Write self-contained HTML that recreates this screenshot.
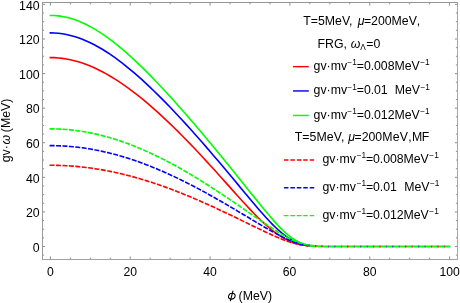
<!DOCTYPE html>
<html><head><meta charset="utf-8"><title>plot</title>
<style>
html,body{margin:0;padding:0;background:#fff;}
svg{display:block;}
.tx{filter:grayscale(1);}
text{font-family:"Liberation Sans",sans-serif;font-size:12.3px;fill:#000;}
.i{font-style:italic;}
.s{font-size:8.3px;}
</style></head><body>
<svg width="460" height="303" viewBox="0 0 460 303">
<rect x="0" y="0" width="460" height="303" fill="#fff"/>
<defs><clipPath id="hc"><rect x="0" y="0" width="308.28" height="303"/></clipPath></defs>
<g clip-path="url(#hc)">
<path d="M50.40 57.59 L54.39 57.68 L58.38 57.94 L62.38 58.37 L66.37 58.98 L70.36 59.75 L74.35 60.69 L78.34 61.80 L82.34 63.06 L86.33 64.49 L90.32 66.07 L94.31 67.81 L98.30 69.69 L102.30 71.72 L106.29 73.89 L110.28 76.19 L114.27 78.62 L118.26 81.18 L122.26 83.86 L126.25 86.65 L130.24 89.56 L134.23 92.58 L138.22 95.70 L142.22 98.92 L146.21 102.24 L150.20 105.64 L154.19 109.13 L158.18 112.71 L162.18 116.36 L166.17 120.09 L170.16 123.90 L174.15 127.77 L178.14 131.70 L182.14 135.70 L186.13 139.76 L190.12 143.87 L194.11 148.04 L198.10 152.26 L202.10 156.52 L206.09 160.83 L210.08 165.18 L214.07 169.57 L218.06 173.99 L222.06 178.43 L226.05 182.89 L230.04 187.37 L234.03 191.84 L238.02 196.29 L242.02 200.71 L246.01 205.07 L250.00 209.34 L253.99 213.51 L257.98 217.53 L261.98 221.37 L265.97 225.00 L269.96 228.41 L271.96 230.02 L273.95 231.56 L275.95 233.03 L277.94 234.43 L279.94 235.75 L281.94 237.00 L283.93 238.17 L285.93 239.26 L287.92 240.27 L289.92 241.19 L291.92 242.03 L293.91 242.78 L295.91 243.45 L297.90 244.02 L299.90 244.52 L301.90 244.94 L303.89 245.28 L305.89 245.56 L307.88 245.78 L309.88 245.96 L311.88 246.09 L313.87 246.19 L315.87 246.27 L317.86 246.33 L319.86 246.38 L321.86 246.41 L323.85 246.43 L325.85 246.45 L327.84 246.46 L329.84 246.47 L337.82 246.49 L345.81 246.50 L353.79 246.50 L361.78 246.50 L369.76 246.50 L377.74 246.50 L385.73 246.50 L393.71 246.50 L401.70 246.50 L409.68 246.50 L417.66 246.50 L425.65 246.50 L433.63 246.50 L441.62 246.50 L449.60 246.50" fill="none" stroke="#ff0000" stroke-width="1.62" stroke-linecap="square" stroke-linejoin="round"/>
<path d="M50.40 32.90 L54.39 33.00 L58.38 33.31 L62.38 33.82 L66.37 34.53 L70.36 35.43 L74.35 36.53 L78.34 37.83 L82.34 39.31 L86.33 40.97 L90.32 42.80 L94.31 44.81 L98.30 46.98 L102.30 49.31 L106.29 51.79 L110.28 54.42 L114.27 57.19 L118.26 60.09 L122.26 63.12 L126.25 66.27 L130.24 69.53 L134.23 72.91 L138.22 76.38 L142.22 79.96 L146.21 83.62 L150.20 87.38 L154.19 91.22 L158.18 95.13 L162.18 99.13 L166.17 103.19 L170.16 107.31 L174.15 111.50 L178.14 115.75 L182.14 120.06 L186.13 124.42 L190.12 128.82 L194.11 133.28 L198.10 137.77 L202.10 142.31 L206.09 146.89 L210.08 151.51 L214.07 156.16 L218.06 160.84 L222.06 165.56 L226.05 170.30 L230.04 175.06 L234.03 179.84 L238.02 184.64 L242.02 189.44 L246.01 194.24 L250.00 199.03 L253.99 203.77 L257.98 208.46 L261.98 213.05 L265.97 217.51 L269.96 221.79 L271.96 223.85 L273.95 225.85 L275.95 227.77 L277.94 229.62 L279.94 231.39 L281.94 233.07 L283.93 234.66 L285.93 236.15 L287.92 237.54 L289.92 238.82 L291.92 240.00 L293.91 241.05 L295.91 242.00 L297.90 242.82 L299.90 243.54 L301.90 244.15 L303.89 244.65 L305.89 245.07 L307.88 245.40 L309.88 245.66 L311.88 245.87 L313.87 246.03 L315.87 246.15 L317.86 246.24 L319.86 246.31 L321.86 246.36 L323.85 246.39 L325.85 246.42 L327.84 246.44 L329.84 246.46 L337.82 246.49 L345.81 246.50 L353.79 246.50 L361.78 246.50 L369.76 246.50 L377.74 246.50 L385.73 246.50 L393.71 246.50 L401.70 246.50 L409.68 246.50 L417.66 246.50 L425.65 246.50 L433.63 246.50 L441.62 246.50 L449.60 246.50" fill="none" stroke="#0000ff" stroke-width="1.62" stroke-linecap="square" stroke-linejoin="round"/>
<path d="M50.40 15.44 L54.39 15.55 L58.38 15.90 L62.38 16.48 L66.37 17.29 L70.36 18.33 L74.35 19.58 L78.34 21.04 L82.34 22.72 L86.33 24.59 L90.32 26.66 L94.31 28.91 L98.30 31.34 L102.30 33.94 L106.29 36.70 L110.28 39.61 L114.27 42.67 L118.26 45.86 L122.26 49.18 L126.25 52.62 L130.24 56.18 L134.23 59.84 L138.22 63.60 L142.22 67.45 L146.21 71.40 L150.20 75.42 L154.19 79.52 L158.18 83.70 L162.18 87.94 L166.17 92.24 L170.16 96.61 L174.15 101.03 L178.14 105.50 L182.14 110.02 L186.13 114.58 L190.12 119.19 L194.11 123.84 L198.10 128.53 L202.10 133.25 L206.09 138.00 L210.08 142.78 L214.07 147.60 L218.06 152.44 L222.06 157.31 L226.05 162.20 L230.04 167.11 L234.03 172.04 L238.02 176.99 L242.02 181.96 L246.01 186.93 L250.00 191.91 L253.99 196.87 L257.98 201.83 L261.98 206.74 L265.97 211.58 L269.96 216.32 L271.96 218.63 L273.95 220.90 L275.95 223.12 L277.94 225.27 L279.94 227.36 L281.94 229.36 L283.93 231.28 L285.93 233.09 L287.92 234.80 L289.92 236.40 L291.92 237.87 L293.91 239.22 L295.91 240.43 L297.90 241.51 L299.90 242.45 L301.90 243.25 L303.89 243.93 L305.89 244.50 L307.88 244.95 L309.88 245.32 L311.88 245.60 L313.87 245.83 L315.87 246.00 L317.86 246.13 L319.86 246.22 L321.86 246.29 L323.85 246.35 L325.85 246.39 L327.84 246.42 L329.84 246.44 L337.82 246.48 L345.81 246.49 L353.79 246.50 L361.78 246.50 L369.76 246.50 L377.74 246.50 L385.73 246.50 L393.71 246.50 L401.70 246.50 L409.68 246.50 L417.66 246.50 L425.65 246.50 L433.63 246.50 L441.62 246.50 L449.60 246.50" fill="none" stroke="#00ff00" stroke-width="1.62" stroke-linecap="square" stroke-linejoin="round"/>
<path d="M50.40 165.28 L54.39 165.31 L58.38 165.39 L62.38 165.53 L66.37 165.72 L70.36 165.97 L74.35 166.27 L78.34 166.62 L82.34 167.03 L86.33 167.50 L90.32 168.02 L94.31 168.59 L98.30 169.21 L102.30 169.89 L106.29 170.62 L110.28 171.40 L114.27 172.23 L118.26 173.11 L122.26 174.04 L126.25 175.02 L130.24 176.05 L134.23 177.13 L138.22 178.25 L142.22 179.42 L146.21 180.64 L150.20 181.90 L154.19 183.21 L158.18 184.56 L162.18 185.95 L166.17 187.38 L170.16 188.85 L174.15 190.36 L178.14 191.91 L182.14 193.49 L186.13 195.11 L190.12 196.77 L194.11 198.45 L198.10 200.17 L202.10 201.92 L206.09 203.70 L210.08 205.50 L214.07 207.33 L218.06 209.18 L222.06 211.05 L226.05 212.94 L230.04 214.85 L234.03 216.77 L238.02 218.70 L242.02 220.64 L246.01 222.58 L250.00 224.52 L253.99 226.45 L257.98 228.37 L261.98 230.28 L265.97 232.16 L269.96 234.00 L271.96 234.90 L273.95 235.79 L275.95 236.66 L277.94 237.51 L279.94 238.34 L281.94 239.15 L283.93 239.92 L285.93 240.67 L287.92 241.38 L289.92 242.06 L291.92 242.68 L293.91 243.27 L295.91 243.79 L297.90 244.27 L299.90 244.69 L301.90 245.05 L303.89 245.35 L305.89 245.60 L307.88 245.81 L309.88 245.97 L311.88 246.10 L313.87 246.20 L315.87 246.28 L317.86 246.33 L319.86 246.38 L321.86 246.41 L323.85 246.43 L325.85 246.45 L327.84 246.46 L329.84 246.47 L337.82 246.49 L345.81 246.50 L353.79 246.50 L361.78 246.50 L369.76 246.50 L377.74 246.50 L385.73 246.50 L393.71 246.50 L401.70 246.50 L409.68 246.50 L417.66 246.50 L425.65 246.50 L433.63 246.50 L441.62 246.50 L449.60 246.50" fill="none" stroke="#ff0000" stroke-width="1.62" stroke-linecap="square" stroke-linejoin="round" stroke-dasharray="3.37 3.07"/>
<path d="M50.40 145.63 L54.39 145.67 L58.38 145.77 L62.38 145.94 L66.37 146.18 L70.36 146.49 L74.35 146.86 L78.34 147.31 L82.34 147.82 L86.33 148.39 L90.32 149.04 L94.31 149.75 L98.30 150.52 L102.30 151.36 L106.29 152.26 L110.28 153.23 L114.27 154.26 L118.26 155.35 L122.26 156.51 L126.25 157.72 L130.24 158.99 L134.23 160.32 L138.22 161.71 L142.22 163.16 L146.21 164.66 L150.20 166.21 L154.19 167.82 L158.18 169.48 L162.18 171.19 L166.17 172.95 L170.16 174.76 L174.15 176.62 L178.14 178.52 L182.14 180.46 L186.13 182.45 L190.12 184.48 L194.11 186.55 L198.10 188.65 L202.10 190.79 L206.09 192.97 L210.08 195.18 L214.07 197.42 L218.06 199.68 L222.06 201.97 L226.05 204.29 L230.04 206.63 L234.03 208.98 L238.02 211.35 L242.02 213.72 L246.01 216.11 L250.00 218.49 L253.99 220.88 L257.98 223.25 L261.98 225.60 L265.97 227.93 L269.96 230.21 L271.96 231.34 L273.95 232.44 L275.95 233.53 L277.94 234.60 L279.94 235.65 L281.94 236.67 L283.93 237.66 L285.93 238.61 L287.92 239.52 L289.92 240.39 L291.92 241.21 L293.91 241.97 L295.91 242.67 L297.90 243.31 L299.90 243.88 L301.90 244.37 L303.89 244.80 L305.89 245.16 L307.88 245.46 L309.88 245.70 L311.88 245.89 L313.87 246.04 L315.87 246.15 L317.86 246.24 L319.86 246.31 L321.86 246.36 L323.85 246.39 L325.85 246.42 L327.84 246.44 L329.84 246.46 L337.82 246.49 L345.81 246.50 L353.79 246.50 L361.78 246.50 L369.76 246.50 L377.74 246.50 L385.73 246.50 L393.71 246.50 L401.70 246.50 L409.68 246.50 L417.66 246.50 L425.65 246.50 L433.63 246.50 L441.62 246.50 L449.60 246.50" fill="none" stroke="#0000ff" stroke-width="1.62" stroke-linecap="square" stroke-linejoin="round" stroke-dasharray="3.37 3.07"/>
<path d="M50.40 128.86 L54.39 128.90 L58.38 129.03 L62.38 129.23 L66.37 129.51 L70.36 129.87 L74.35 130.31 L78.34 130.84 L82.34 131.44 L86.33 132.12 L90.32 132.87 L94.31 133.71 L98.30 134.62 L102.30 135.60 L106.29 136.66 L110.28 137.80 L114.27 139.01 L118.26 140.29 L122.26 141.64 L126.25 143.06 L130.24 144.54 L134.23 146.10 L138.22 147.72 L142.22 149.41 L146.21 151.15 L150.20 152.96 L154.19 154.84 L158.18 156.77 L162.18 158.75 L166.17 160.80 L170.16 162.89 L174.15 165.04 L178.14 167.25 L182.14 169.50 L186.13 171.80 L190.12 174.14 L194.11 176.53 L198.10 178.96 L202.10 181.43 L206.09 183.94 L210.08 186.48 L214.07 189.06 L218.06 191.67 L222.06 194.31 L226.05 196.97 L230.04 199.66 L234.03 202.37 L238.02 205.09 L242.02 207.83 L246.01 210.57 L250.00 213.32 L253.99 216.06 L257.98 218.79 L261.98 221.51 L265.97 224.20 L269.96 226.84 L271.96 228.15 L273.95 229.43 L275.95 230.70 L277.94 231.95 L279.94 233.17 L281.94 234.36 L283.93 235.52 L285.93 236.65 L287.92 237.73 L289.92 238.77 L291.92 239.75 L293.91 240.67 L295.91 241.53 L297.90 242.31 L299.90 243.02 L301.90 243.65 L303.89 244.20 L305.89 244.67 L307.88 245.06 L309.88 245.39 L311.88 245.64 L313.87 245.85 L315.87 246.01 L317.86 246.13 L319.86 246.23 L321.86 246.30 L323.85 246.35 L325.85 246.39 L327.84 246.42 L329.84 246.44 L337.82 246.48 L345.81 246.49 L353.79 246.50 L361.78 246.50 L369.76 246.50 L377.74 246.50 L385.73 246.50 L393.71 246.50 L401.70 246.50 L409.68 246.50 L417.66 246.50 L425.65 246.50 L433.63 246.50 L441.62 246.50 L449.60 246.50" fill="none" stroke="#00ff00" stroke-width="1.62" stroke-linecap="square" stroke-linejoin="round" stroke-dasharray="3.37 3.07"/>
</g>
<path d="M308.28 244.07L308.50 244.11L308.66 244.14L308.66 246.83L308.50 246.82L308.28 246.80ZM310.09 244.39L310.50 244.45L311.00 244.52L311.50 244.59L312.00 244.66L312.50 244.71L313.00 244.77L313.50 244.83L314.00 244.88L314.50 244.92L315.00 244.96L315.05 244.97L315.05 247.20L315.00 247.20L314.50 247.18L314.00 247.16L313.50 247.14L313.00 247.12L312.50 247.09L312.00 247.07L311.50 247.04L311.00 247.00L310.50 246.97L310.09 246.95ZM316.50 245.08L317.00 245.11L317.50 245.14L318.00 245.17L318.50 245.20L319.00 245.22L319.50 245.24L320.00 245.27L320.50 245.29L321.00 245.30L321.48 245.32L321.48 247.36L321.00 247.35L320.50 247.35L320.00 247.34L319.50 247.33L319.00 247.32L318.50 247.31L318.00 247.30L317.50 247.28L317.00 247.27L316.50 247.25ZM322.93 245.36L323.00 245.37L323.50 245.38L324.00 245.39L324.50 245.40L325.00 245.41L325.50 245.42L326.00 245.43L326.50 245.44L327.00 245.45L327.50 245.45L327.92 245.46L327.92 247.42L327.50 247.42L327.00 247.42L326.50 247.41L326.00 247.41L325.50 247.41L325.00 247.40L324.50 247.40L324.00 247.39L323.50 247.39L323.00 247.38L322.93 247.38ZM329.37 245.47L329.50 245.48L330.00 245.48L330.50 245.48L331.00 245.49L331.50 245.49L332.00 245.49L332.50 245.49L333.00 245.50L333.50 245.50L334.00 245.50L334.36 245.50L334.36 247.44L334.00 247.44L333.50 247.44L333.00 247.44L332.50 247.44L332.00 247.44L331.50 247.44L331.00 247.44L330.50 247.43L330.00 247.43L329.50 247.43L329.37 247.43ZM335.81 245.51L336.00 245.51L336.50 245.52L337.00 245.52L337.50 245.52L338.00 245.52L338.50 245.52L339.00 245.52L339.50 245.52L340.00 245.53L340.50 245.53L340.80 245.53L340.80 247.45L340.50 247.45L340.00 247.45L339.50 247.45L339.00 247.45L338.50 247.45L338.00 247.45L337.50 247.45L337.00 247.45L336.50 247.45L336.00 247.45L335.81 247.45ZM342.25 245.53L342.50 245.53L343.00 245.53L343.50 245.53L344.00 245.53L344.50 245.53L345.00 245.53L345.50 245.53L346.00 245.53L346.50 245.54L347.00 245.54L347.24 245.54L347.24 247.46L347.00 247.46L346.50 247.46L346.00 247.46L345.50 247.46L345.00 247.46L344.50 247.46L344.00 247.46L343.50 247.46L343.00 247.46L342.50 247.46L342.25 247.46ZM348.69 245.54L349.00 245.54L349.50 245.54L350.00 245.54L350.50 245.54L351.00 245.54L351.50 245.54L352.00 245.54L352.50 245.54L353.00 245.54L353.50 245.54L353.68 245.54L353.68 247.46L353.50 247.46L353.00 247.46L352.50 247.46L352.00 247.46L351.50 247.46L351.00 247.46L350.50 247.46L350.00 247.46L349.50 247.46L349.00 247.46L348.69 247.46ZM355.13 245.54L355.50 245.54L356.00 245.54L356.50 245.54L357.00 245.54L357.50 245.54L358.00 245.54L358.50 245.54L359.00 245.54L359.50 245.54L360.00 245.54L360.12 245.54L360.12 247.46L360.00 247.46L359.50 247.46L359.00 247.46L358.50 247.46L358.00 247.46L357.50 247.46L357.00 247.46L356.50 247.46L356.00 247.46L355.50 247.46L355.13 247.46ZM361.57 245.54L362.00 245.54L362.50 245.54L363.00 245.54L363.50 245.54L364.00 245.54L364.50 245.54L365.00 245.54L365.50 245.54L366.00 245.54L366.50 245.54L366.56 245.54L366.56 247.46L366.50 247.46L366.00 247.46L365.50 247.46L365.00 247.46L364.50 247.46L364.00 247.46L363.50 247.46L363.00 247.46L362.50 247.46L362.00 247.46L361.57 247.46ZM368.01 245.54L368.50 245.54L369.00 245.54L369.50 245.54L370.00 245.54L370.50 245.54L371.00 245.54L371.50 245.54L372.00 245.54L372.50 245.54L373.00 245.54L373.00 245.54L373.00 247.46L373.00 247.46L372.50 247.46L372.00 247.46L371.50 247.46L371.00 247.46L370.50 247.46L370.00 247.46L369.50 247.46L369.00 247.46L368.50 247.46L368.01 247.46ZM374.45 245.54L374.50 245.54L375.00 245.54L375.50 245.54L376.00 245.54L376.50 245.54L377.00 245.54L377.50 245.54L378.00 245.54L378.50 245.54L379.00 245.54L379.44 245.54L379.44 247.46L379.00 247.46L378.50 247.46L378.00 247.46L377.50 247.46L377.00 247.46L376.50 247.46L376.00 247.46L375.50 247.46L375.00 247.46L374.50 247.46L374.45 247.46ZM380.89 245.54L381.00 245.54L381.50 245.54L382.00 245.54L382.50 245.54L383.00 245.54L383.50 245.54L384.00 245.54L384.50 245.54L385.00 245.54L385.50 245.54L385.88 245.54L385.88 247.46L385.50 247.46L385.00 247.46L384.50 247.46L384.00 247.46L383.50 247.46L383.00 247.46L382.50 247.46L382.00 247.46L381.50 247.46L381.00 247.46L380.89 247.46ZM387.33 245.54L387.50 245.54L388.00 245.54L388.50 245.54L389.00 245.54L389.50 245.54L390.00 245.54L390.50 245.54L391.00 245.54L391.50 245.54L392.00 245.54L392.32 245.54L392.32 247.46L392.00 247.46L391.50 247.46L391.00 247.46L390.50 247.46L390.00 247.46L389.50 247.46L389.00 247.46L388.50 247.46L388.00 247.46L387.50 247.46L387.33 247.46ZM393.77 245.54L394.00 245.54L394.50 245.54L395.00 245.54L395.50 245.54L396.00 245.54L396.50 245.54L397.00 245.54L397.50 245.54L398.00 245.54L398.50 245.54L398.76 245.54L398.76 247.46L398.50 247.46L398.00 247.46L397.50 247.46L397.00 247.46L396.50 247.46L396.00 247.46L395.50 247.46L395.00 247.46L394.50 247.46L394.00 247.46L393.77 247.46ZM400.21 245.54L400.50 245.54L401.00 245.54L401.50 245.54L402.00 245.54L402.50 245.54L403.00 245.54L403.50 245.54L404.00 245.54L404.50 245.54L405.00 245.54L405.20 245.54L405.20 247.46L405.00 247.46L404.50 247.46L404.00 247.46L403.50 247.46L403.00 247.46L402.50 247.46L402.00 247.46L401.50 247.46L401.00 247.46L400.50 247.46L400.21 247.46ZM406.65 245.54L407.00 245.54L407.50 245.54L408.00 245.54L408.50 245.54L409.00 245.54L409.50 245.54L410.00 245.54L410.50 245.54L411.00 245.54L411.50 245.54L411.64 245.54L411.64 247.46L411.50 247.46L411.00 247.46L410.50 247.46L410.00 247.46L409.50 247.46L409.00 247.46L408.50 247.46L408.00 247.46L407.50 247.46L407.00 247.46L406.65 247.46ZM413.09 245.54L413.50 245.54L414.00 245.54L414.50 245.54L415.00 245.54L415.50 245.54L416.00 245.54L416.50 245.54L417.00 245.54L417.50 245.54L418.00 245.54L418.08 245.54L418.08 247.46L418.00 247.46L417.50 247.46L417.00 247.46L416.50 247.46L416.00 247.46L415.50 247.46L415.00 247.46L414.50 247.46L414.00 247.46L413.50 247.46L413.09 247.46ZM419.53 245.54L420.00 245.54L420.50 245.54L421.00 245.54L421.50 245.54L422.00 245.54L422.50 245.54L423.00 245.54L423.50 245.54L424.00 245.54L424.50 245.54L424.52 245.54L424.52 247.46L424.50 247.46L424.00 247.46L423.50 247.46L423.00 247.46L422.50 247.46L422.00 247.46L421.50 247.46L421.00 247.46L420.50 247.46L420.00 247.46L419.53 247.46ZM425.97 245.54L426.00 245.54L426.50 245.54L427.00 245.54L427.50 245.54L428.00 245.54L428.50 245.54L429.00 245.54L429.50 245.54L430.00 245.54L430.50 245.54L430.96 245.54L430.96 247.46L430.50 247.46L430.00 247.46L429.50 247.46L429.00 247.46L428.50 247.46L428.00 247.46L427.50 247.46L427.00 247.46L426.50 247.46L426.00 247.46L425.97 247.46ZM432.41 245.54L432.50 245.54L433.00 245.54L433.50 245.54L434.00 245.54L434.50 245.54L435.00 245.54L435.50 245.54L436.00 245.54L436.50 245.54L437.00 245.54L437.40 245.54L437.40 247.46L437.00 247.46L436.50 247.46L436.00 247.46L435.50 247.46L435.00 247.46L434.50 247.46L434.00 247.46L433.50 247.46L433.00 247.46L432.50 247.46L432.41 247.46ZM438.85 245.54L439.00 245.54L439.50 245.54L440.00 245.54L440.50 245.54L441.00 245.54L441.50 245.54L442.00 245.54L442.50 245.54L443.00 245.54L443.50 245.54L443.84 245.54L443.84 247.46L443.50 247.46L443.00 247.46L442.50 247.46L442.00 247.46L441.50 247.46L441.00 247.46L440.50 247.46L440.00 247.46L439.50 247.46L439.00 247.46L438.85 247.46ZM445.29 245.54L445.50 245.54L446.00 245.54L446.50 245.54L447.00 245.54L447.50 245.54L448.00 245.54L448.50 245.54L449.00 245.54L449.50 245.54L450.00 245.54L450.28 245.54L450.28 247.46L450.00 247.46L449.50 247.46L449.00 247.46L448.50 247.46L448.00 247.46L447.50 247.46L447.00 247.46L446.50 247.46L446.00 247.46L445.50 247.46L445.29 247.46Z" fill="#00ff00" stroke="none"/>
<path d="M308.66 244.14L309.00 244.20L309.37 244.26L309.37 246.89L309.00 246.86L308.66 246.83ZM315.05 244.97L315.50 245.01L315.79 245.03L315.79 247.23L315.50 247.22L315.05 247.20ZM321.48 245.32L321.50 245.32L322.00 245.34L322.22 245.34L322.22 247.37L322.00 247.37L321.50 247.36L321.48 247.36ZM327.92 245.46L328.00 245.46L328.50 245.46L328.66 245.47L328.66 247.43L328.50 247.43L328.00 247.42L327.92 247.42ZM334.36 245.50L334.50 245.50L335.00 245.51L335.10 245.51L335.10 247.45L335.00 247.45L334.50 247.44L334.36 247.44ZM340.80 245.53L341.00 245.53L341.50 245.53L341.54 245.53L341.54 247.45L341.50 247.45L341.00 247.45L340.80 247.45ZM347.24 245.54L347.50 245.54L347.98 245.54L347.98 247.46L347.50 247.46L347.24 247.46ZM353.68 245.54L354.00 245.54L354.42 245.54L354.42 247.46L354.00 247.46L353.68 247.46ZM360.12 245.54L360.50 245.54L360.86 245.54L360.86 247.46L360.50 247.46L360.12 247.46ZM366.56 245.54L367.00 245.54L367.30 245.54L367.30 247.46L367.00 247.46L366.56 247.46ZM373.00 245.54L373.50 245.54L373.74 245.54L373.74 247.46L373.50 247.46L373.00 247.46ZM379.44 245.54L379.50 245.54L380.00 245.54L380.18 245.54L380.18 247.46L380.00 247.46L379.50 247.46L379.44 247.46ZM385.88 245.54L386.00 245.54L386.50 245.54L386.62 245.54L386.62 247.46L386.50 247.46L386.00 247.46L385.88 247.46ZM392.32 245.54L392.50 245.54L393.00 245.54L393.06 245.54L393.06 247.46L393.00 247.46L392.50 247.46L392.32 247.46ZM398.76 245.54L399.00 245.54L399.50 245.54L399.50 245.54L399.50 247.46L399.50 247.46L399.00 247.46L398.76 247.46ZM405.20 245.54L405.50 245.54L405.94 245.54L405.94 247.46L405.50 247.46L405.20 247.46ZM411.64 245.54L412.00 245.54L412.38 245.54L412.38 247.46L412.00 247.46L411.64 247.46ZM418.08 245.54L418.50 245.54L418.82 245.54L418.82 247.46L418.50 247.46L418.08 247.46ZM424.52 245.54L425.00 245.54L425.26 245.54L425.26 247.46L425.00 247.46L424.52 247.46ZM430.96 245.54L431.00 245.54L431.50 245.54L431.70 245.54L431.70 247.46L431.50 247.46L431.00 247.46L430.96 247.46ZM437.40 245.54L437.50 245.54L438.00 245.54L438.14 245.54L438.14 247.46L438.00 247.46L437.50 247.46L437.40 247.46ZM443.84 245.54L444.00 245.54L444.50 245.54L444.58 245.54L444.58 247.46L444.50 247.46L444.00 247.46L443.84 247.46ZM450.28 245.54L450.41 245.54L450.41 247.46L450.28 247.46Z" fill="#0000ff" stroke="none"/>
<path d="M309.37 244.26L309.50 244.29L310.00 244.38L310.09 244.39L310.09 246.95L310.00 246.94L309.50 246.90L309.37 246.89ZM315.79 245.03L316.00 245.04L316.50 245.08L316.50 245.08L316.50 247.25L316.50 247.25L316.00 247.24L315.79 247.23ZM322.22 245.34L322.50 245.35L322.93 245.36L322.93 247.38L322.50 247.38L322.22 247.37ZM328.66 245.47L329.00 245.47L329.37 245.47L329.37 247.43L329.00 247.43L328.66 247.43ZM335.10 245.51L335.50 245.51L335.81 245.51L335.81 247.45L335.50 247.45L335.10 247.45ZM341.54 245.53L342.00 245.53L342.25 245.53L342.25 247.46L342.00 247.46L341.54 247.45ZM347.98 245.54L348.00 245.54L348.50 245.54L348.69 245.54L348.69 247.46L348.50 247.46L348.00 247.46L347.98 247.46ZM354.42 245.54L354.50 245.54L355.00 245.54L355.13 245.54L355.13 247.46L355.00 247.46L354.50 247.46L354.42 247.46ZM360.86 245.54L361.00 245.54L361.50 245.54L361.57 245.54L361.57 247.46L361.50 247.46L361.00 247.46L360.86 247.46ZM367.30 245.54L367.50 245.54L368.00 245.54L368.01 245.54L368.01 247.46L368.00 247.46L367.50 247.46L367.30 247.46ZM373.74 245.54L374.00 245.54L374.45 245.54L374.45 247.46L374.00 247.46L373.74 247.46ZM380.18 245.54L380.50 245.54L380.89 245.54L380.89 247.46L380.50 247.46L380.18 247.46ZM386.62 245.54L387.00 245.54L387.33 245.54L387.33 247.46L387.00 247.46L386.62 247.46ZM393.06 245.54L393.50 245.54L393.77 245.54L393.77 247.46L393.50 247.46L393.06 247.46ZM399.50 245.54L400.00 245.54L400.21 245.54L400.21 247.46L400.00 247.46L399.50 247.46ZM405.94 245.54L406.00 245.54L406.50 245.54L406.65 245.54L406.65 247.46L406.50 247.46L406.00 247.46L405.94 247.46ZM412.38 245.54L412.50 245.54L413.00 245.54L413.09 245.54L413.09 247.46L413.00 247.46L412.50 247.46L412.38 247.46ZM418.82 245.54L419.00 245.54L419.50 245.54L419.53 245.54L419.53 247.46L419.50 247.46L419.00 247.46L418.82 247.46ZM425.26 245.54L425.50 245.54L425.97 245.54L425.97 247.46L425.50 247.46L425.26 247.46ZM431.70 245.54L432.00 245.54L432.41 245.54L432.41 247.46L432.00 247.46L431.70 247.46ZM438.14 245.54L438.50 245.54L438.85 245.54L438.85 247.46L438.50 247.46L438.14 247.46ZM444.58 245.54L445.00 245.54L445.29 245.54L445.29 247.46L445.00 247.46L444.58 247.46Z" fill="#ff0000" stroke="none"/>
<path d="M50.40 259.50v-3.10M50.40 2.50v3.10M70.36 259.50v-1.80M70.36 2.50v1.80M90.32 259.50v-1.80M90.32 2.50v1.80M110.28 259.50v-1.80M110.28 2.50v1.80M130.24 259.50v-3.10M130.24 2.50v3.10M150.20 259.50v-1.80M150.20 2.50v1.80M170.16 259.50v-1.80M170.16 2.50v1.80M190.12 259.50v-1.80M190.12 2.50v1.80M210.08 259.50v-3.10M210.08 2.50v3.10M230.04 259.50v-1.80M230.04 2.50v1.80M250.00 259.50v-1.80M250.00 2.50v1.80M269.96 259.50v-1.80M269.96 2.50v1.80M289.92 259.50v-3.10M289.92 2.50v3.10M309.88 259.50v-1.80M309.88 2.50v1.80M329.84 259.50v-1.80M329.84 2.50v1.80M349.80 259.50v-1.80M349.80 2.50v1.80M369.76 259.50v-3.10M369.76 2.50v3.10M389.72 259.50v-1.80M389.72 2.50v1.80M409.68 259.50v-1.80M409.68 2.50v1.80M429.64 259.50v-1.80M429.64 2.50v1.80M449.60 259.50v-3.10M449.60 2.50v3.10M42.50 255.15h1.60M457.50 255.15h-1.60M42.50 246.50h2.60M457.50 246.50h-2.60M42.50 237.85h1.60M457.50 237.85h-1.60M42.50 229.21h1.60M457.50 229.21h-1.60M42.50 220.56h1.60M457.50 220.56h-1.60M42.50 211.91h2.60M457.50 211.91h-2.60M42.50 203.27h1.60M457.50 203.27h-1.60M42.50 194.62h1.60M457.50 194.62h-1.60M42.50 185.97h1.60M457.50 185.97h-1.60M42.50 177.33h2.60M457.50 177.33h-2.60M42.50 168.68h1.60M457.50 168.68h-1.60M42.50 160.03h1.60M457.50 160.03h-1.60M42.50 151.39h1.60M457.50 151.39h-1.60M42.50 142.74h2.60M457.50 142.74h-2.60M42.50 134.10h1.60M457.50 134.10h-1.60M42.50 125.45h1.60M457.50 125.45h-1.60M42.50 116.80h1.60M457.50 116.80h-1.60M42.50 108.16h2.60M457.50 108.16h-2.60M42.50 99.51h1.60M457.50 99.51h-1.60M42.50 90.86h1.60M457.50 90.86h-1.60M42.50 82.22h1.60M457.50 82.22h-1.60M42.50 73.57h2.60M457.50 73.57h-2.60M42.50 64.92h1.60M457.50 64.92h-1.60M42.50 56.28h1.60M457.50 56.28h-1.60M42.50 47.63h1.60M457.50 47.63h-1.60M42.50 38.98h2.60M457.50 38.98h-2.60M42.50 30.34h1.60M457.50 30.34h-1.60M42.50 21.69h1.60M457.50 21.69h-1.60M42.50 13.04h1.60M457.50 13.04h-1.60M42.50 4.40h2.60M457.50 4.40h-2.60" fill="none" stroke="#808080" stroke-width="0.9"/>
<path d="M42.0 2.5H458.0" stroke="#949494" stroke-width="1" fill="none"/>
<path d="M42.0 259.5H458.0" stroke="#a2a2a2" stroke-width="1" fill="none"/>
<path d="M42.5 3.0V259.0" stroke="#9a9a9a" stroke-width="1" fill="none"/>
<path d="M457.5 3.0V259.0" stroke="#a8a8a8" stroke-width="1" fill="none"/>
<g class="tx">
<text x="39.6" y="251.80" text-anchor="end">0</text>
<text x="39.6" y="217.21" text-anchor="end">20</text>
<text x="39.6" y="182.63" text-anchor="end">40</text>
<text x="39.6" y="148.04" text-anchor="end">60</text>
<text x="39.6" y="113.46" text-anchor="end">80</text>
<text x="39.6" y="78.87" text-anchor="end">100</text>
<text x="39.6" y="44.28" text-anchor="end">120</text>
<text x="39.6" y="9.70" text-anchor="end">140</text>
<text x="50.40" y="275.8" text-anchor="middle" style="font-size:12.2px">0</text>
<text x="130.24" y="275.8" text-anchor="middle" style="font-size:12.2px">20</text>
<text x="210.08" y="275.8" text-anchor="middle" style="font-size:12.2px">40</text>
<text x="289.62" y="275.8" text-anchor="middle" style="font-size:12.2px">60</text>
<text x="369.76" y="275.8" text-anchor="middle" style="font-size:12.2px">80</text>
<text x="449.60" y="275.8" text-anchor="middle" style="font-size:12.2px">100</text>
<text x="238.6" y="299.8">(MeV)</text>
<text transform="translate(9.5 130.5) rotate(-90)" text-anchor="middle">gv·<tspan class="i" dx="0.8">ω</tspan><tspan dx="-0.8"> (MeV)</tspan></text>
<text x="303.3" y="25.0">T=5MeV, <tspan class="i" dx="1.8">μ</tspan><tspan dx="-0.5">=200MeV</tspan><tspan dx="0.9">,</tspan></text>
<text x="317.5" y="47.7">FRG, <tspan class="i" dx="0.5">ω</tspan><tspan class="s" dy="2.0" dx="-0.2">Λ</tspan><tspan dy="-2.0" dx="0.6">=0</tspan></text>
<text x="313.6" y="69.8">gv·mv<tspan class="s" dy="-4.4" dx="0.25">−1</tspan><tspan dy="4.4" dx="-0.05" letter-spacing="-0.04">=0.008</tspan><tspan letter-spacing="-0.04">MeV</tspan><tspan class="s" dy="-4.4" dx="0.55">−1</tspan></text>
<text x="313.6" y="94.1">gv·mv<tspan class="s" dy="-4.4" dx="0.25">−1</tspan><tspan dy="4.4" dx="-0.05" letter-spacing="-0.04">=0.01  </tspan><tspan dx="0.25" letter-spacing="-0.04">MeV</tspan><tspan class="s" dy="-4.4" dx="0.55">−1</tspan></text>
<text x="313.6" y="118.6">gv·mv<tspan class="s" dy="-4.4" dx="0.25">−1</tspan><tspan dy="4.4" dx="-0.05" letter-spacing="-0.04">=0.012</tspan><tspan letter-spacing="-0.04">MeV</tspan><tspan class="s" dy="-4.4" dx="0.55">−1</tspan></text>
<text x="294.7" y="140.7"><tspan letter-spacing="0.1">T=5MeV,</tspan> <tspan class="i" dx="0.3">μ</tspan><tspan dx="-0.5">=200</tspan><tspan letter-spacing="0.23">MeV</tspan><tspan dx="0.1">,</tspan><tspan dx="0.3" letter-spacing="-0.4">MF</tspan></text>
<text x="322.4" y="162.9">gv·mv<tspan class="s" dy="-4.800000000000001" dx="0.8">−1</tspan><tspan dy="4.800000000000001" dx="-0.25" letter-spacing="-0.04">=0.008</tspan><tspan letter-spacing="-0.04">MeV</tspan><tspan class="s" dy="-4.800000000000001" dx="0.55">−1</tspan></text>
<text x="322.4" y="190.70000000000002">gv·mv<tspan class="s" dy="-4.800000000000001" dx="0.8">−1</tspan><tspan dy="4.800000000000001" dx="-0.25" letter-spacing="-0.04">=0.01  </tspan><tspan dx="0.65" letter-spacing="-0.04">MeV</tspan><tspan class="s" dy="-4.800000000000001" dx="0.55">−1</tspan></text>
<text x="322.4" y="218.5">gv·mv<tspan class="s" dy="-4.800000000000001" dx="0.8">−1</tspan><tspan dy="4.800000000000001" dx="-0.25" letter-spacing="-0.04">=0.012</tspan><tspan letter-spacing="-0.04">MeV</tspan><tspan class="s" dy="-4.800000000000001" dx="0.55">−1</tspan></text>
</g>
<path d="M293.7 66.65 H308.1" stroke="#ff0000" stroke-width="1.4200000000000002" stroke-linecap="square" fill="none"/>
<path d="M293.7 90.95 H308.1" stroke="#0000ff" stroke-width="1.4200000000000002" stroke-linecap="square" fill="none"/>
<path d="M293.7 115.45 H308.1" stroke="#00ff00" stroke-width="1.4200000000000002" stroke-linecap="square" fill="none"/>
<path d="M284.65 160.0 H314.65" stroke="#ff0000" stroke-width="1.4200000000000002" stroke-linecap="square" stroke-dasharray="3.1 3.34" fill="none"/>
<path d="M284.65 187.8 H314.65" stroke="#0000ff" stroke-width="1.4200000000000002" stroke-linecap="square" stroke-dasharray="3.1 3.34" fill="none"/>
<path d="M284.65 215.6 H314.65" stroke="#00ff00" stroke-width="1.4200000000000002" stroke-linecap="square" stroke-dasharray="3.1 3.34" fill="none"/>
<g fill="none" stroke="#000" stroke-width="1.05"><ellipse transform="translate(231.8 296.2) skewX(-11)" rx="3.3" ry="2.9"/><path d="M233.05 290.6L230.35 301.2"/></g>
</svg>
</body></html>
